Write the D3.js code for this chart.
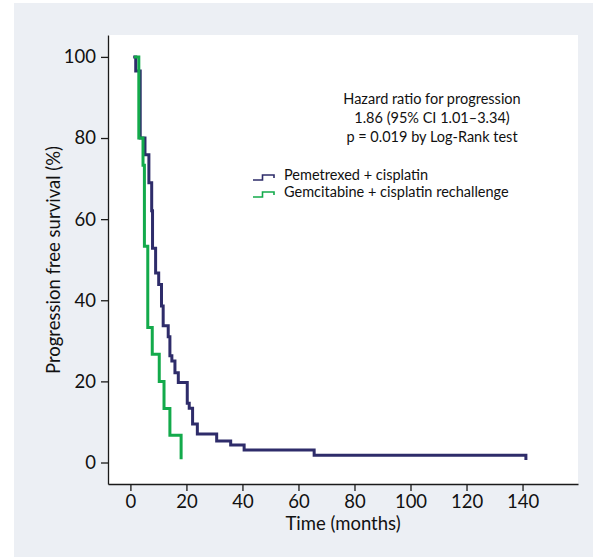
<!DOCTYPE html>
<html>
<head>
<meta charset="utf-8">
<script src="https://cdn.jsdelivr.net/npm/d3@7"></script>
<style>
  html, body { margin: 0; padding: 0; background: #fff; }
  svg text { font-family: Lato, "Open Sans", sans-serif; fill: #111; }
</style>
</head>
<body>
<div id="vis"></div>
<script>
// tiempos (meses) y supervivencia libre de progresion (%)
const pemTimes = [1.0, 1.9, 3.5, 5.2, 6.6, 7.6, 7.9, 9.0, 10.1, 11.1, 11.7, 13.5, 14.1, 14.8, 15.9, 17.1, 20.3, 21.0, 22.2, 23.9, 30.8, 35.8, 40.6, 65.6, 141.2];
const pemValues = [100, 96.5, 80, 75.9, 69.0, 62.1, 52.8, 46.7, 43.9, 38.6, 33.7, 31.0, 26.3, 25.0, 22.1, 19.7, 14.6, 13.4, 9.5, 7.0, 5.3, 4.3, 3.1, 1.8, 0.6];

const gemTimes = [1.3, 3.0, 4.5, 5.0, 6.2, 7.8, 10.3, 12.0, 14.1, 18.1];
const gemValues = [100, 80, 73.3, 53.3, 33.3, 26.7, 20, 13.3, 6.7, 0.8];

const xTicks = [0, 20, 40, 60, 80, 100, 120, 140];
const yTicks = [0, 20, 40, 60, 80, 100];

const seriesNames = ["Pemetrexed + cisplatin", "Gemcitabine + cisplatin rechallenge"];
const seriesColors = ["#2e2c6a", "#13aa4b"];
const annotation = [
  "Hazard ratio for progression",
  "1.86 (95% CI 1.01\u20133.34)",
  "p = 0.019 by Log-Rank test"
];

function draw() {
  const width = 593;
  const height = 557;
  const margin = { left: 108, right: 15, top: 35, bottom: 73 };

  const svg = d3.select("#vis")
    .append("svg")
    .attr("width", width)
    .attr("height", height);

  // fondo gris y area blanca del grafico
  svg.append("rect")
    .attr("x", 14).attr("y", 3)
    .attr("width", width - 14).attr("height", height - 3)
    .attr("fill", "#eceff4");

  const x = d3.scaleLinear()
    .domain([-8, 159.8])
    .range([margin.left, width - margin.right]);

  const y = d3.scaleLinear()
    .domain([-5.3, 105.4])
    .range([height - margin.bottom, margin.top]);

  svg.append("rect")
    .attr("x", margin.left).attr("y", margin.top)
    .attr("width", width - margin.right - margin.left)
    .attr("height", height - margin.bottom - margin.top)
    .attr("fill", "#fff");

  const xAxis = svg.append("g")
    .attr("transform", `translate(0,${height - margin.bottom})`)
    .call(d3.axisBottom(x).tickValues(xTicks).tickSizeInner(7).tickSizeOuter(0).tickPadding(4));

  const yAxis = svg.append("g")
    .attr("transform", `translate(${margin.left},0)`)
    .call(d3.axisLeft(y).tickValues(yTicks).tickSizeInner(7).tickSizeOuter(0).tickPadding(5));

  [xAxis, yAxis].forEach(a => {
    a.selectAll("path, line").attr("stroke", "#1a1a1a").attr("stroke-width", 1.3);
    a.selectAll("text").style("font-size", "18.5px");
  });

  svg.append("text")
    .attr("x", 343).attr("y", 530)
    .attr("text-anchor", "middle")
    .style("font-size", "18.5px")
    .text("Time (months)");

  svg.append("text")
    .attr("transform", "translate(60,260) rotate(-90)")
    .attr("text-anchor", "middle")
    .style("font-size", "18.5px")
    .text("Progression free survival (%)");

  // curvas Kaplan-Meier
  const line = d3.line()
    .x(d => x(d[0]))
    .y(d => y(d[1]))
    .curve(d3.curveStepAfter);

  const series = [
    d3.zip(pemTimes, pemValues),
    d3.zip(gemTimes, gemValues)
  ];

  svg.selectAll("path.km")
    .data(series)
    .enter()
    .append("path")
    .attr("class", "km")
    .attr("d", line)
    .attr("fill", "none")
    .attr("stroke", (_d, i) => seriesColors[i])
    .attr("stroke-width", 3);

  // anotacion
  svg.append("text")
    .attr("text-anchor", "middle")
    .style("font-size", "14.5px")
    .selectAll("tspan")
    .data(annotation)
    .enter()
    .append("tspan")
    .attr("x", 432)
    .attr("y", (_d, i) => 104 + i * 19)
    .text(d => d);

  // leyenda
  const legend = svg.selectAll("g.legend")
    .data(seriesNames)
    .enter()
    .append("g")
    .attr("class", "legend")
    .attr("transform", (_d, i) => `translate(253,${180 + i * 17})`);

  legend.append("path")
    .attr("d", "M0,0H9.5V-5H21V-2")
    .attr("fill", "none")
    .attr("stroke", (_d, i) => seriesColors[i])
    .attr("stroke-width", 1.6);

  legend.append("text")
    .attr("x", 31)
    .attr("y", 0)
    .style("font-size", "14.5px")
    .text(d => d);
}

draw();
</script>
</body>
</html>
